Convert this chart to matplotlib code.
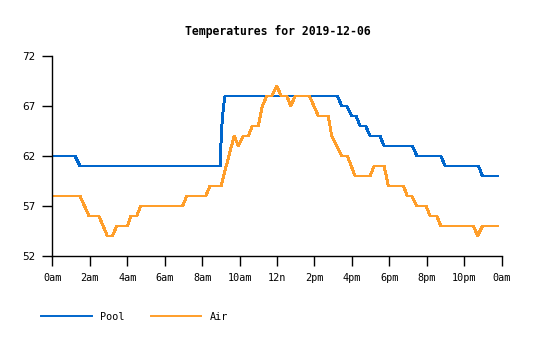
import matplotlib
matplotlib.use('Agg')
import matplotlib.pyplot as plt

# ── data (hours since midnight, degrees) ─────────────────────────────────────
pool_hours = [0.0, 1.21, 1.48, 8.96, 9.0, 9.08, 9.17, 9.23, 15.22, 15.46, 15.73,
              15.99, 16.22, 16.44, 16.74, 16.97, 17.5, 17.72, 19.23, 19.47,
              20.75, 20.98, 22.76, 22.97, 23.77]
pool_temps = [62, 62, 61, 61, 63, 65.8, 67.3, 68, 68, 67, 67,
              66, 66, 65, 65, 64, 64, 63, 63, 62,
              62, 61, 61, 60, 60]

air_hours = [0.0, 1.48, 1.96, 2.49, 2.94, 3.21, 3.44, 4.01, 4.19, 4.51, 4.72,
             6.96, 7.18, 8.19, 8.42, 9.01, 9.71, 9.94, 10.2, 10.47, 10.68,
             11.0, 11.22, 11.45, 11.72, 11.99, 12.22, 12.52, 12.74, 12.97,
             13.73, 14.21, 14.74, 14.92, 15.2, 15.46, 15.76, 16.17, 16.97,
             17.19, 17.72, 17.95, 18.75, 18.96, 19.2, 19.47, 19.96, 20.18,
             20.53, 20.75, 22.49, 22.72, 22.97, 23.77]
air_temps = [58, 58, 56, 56, 54, 54, 55, 55, 56, 56, 57,
             57, 58, 58, 59, 59, 64, 63, 64, 64, 65,
             65, 67, 68, 68, 69, 68, 68, 67, 68,
             68, 66, 66, 64, 63, 62, 62, 60, 60,
             61, 61, 59, 59, 58, 58, 57, 57, 56,
             56, 55, 55, 54, 55, 55]

x_ticks = list(range(0, 25, 2))
x_labels = ['0am', '2am', '4am', '6am', '8am', '10am', '12n',
            '2pm', '4pm', '6pm', '8pm', '10pm', '0am']
y_ticks = [52, 57, 62, 67, 72]

POOL_COLOR = '#0066CC'
AIR_COLOR = '#FF9E2A'
MONO = 'DejaVu Sans Mono'

# ── figure ───────────────────────────────────────────────────────────────────
fig = plt.figure(figsize=(5.35, 3.4), dpi=100)
ax = fig.add_axes([52.3 / 535, 1 - 256 / 340, (501.7 - 52.3) / 535, 200 / 340])

ax.plot(pool_hours, pool_temps, color=POOL_COLOR, lw=1.4,
        antialiased=False, label='Pool')
ax.plot(air_hours, air_temps, color=AIR_COLOR, lw=1.4,
        antialiased=False, label='Air')

ax.set_xlim(0, 24)
ax.set_ylim(52, 72)
ax.set_xticks(x_ticks)
ax.set_xticklabels(x_labels, family=MONO, fontsize=7.3)
ax.set_yticks(y_ticks)
ax.set_yticklabels([str(v) for v in y_ticks], fontsize=7.5)
ax.tick_params(direction='out', length=7, width=1, color='black', pad=5)

for side in ('top', 'right'):
    ax.spines[side].set_visible(False)
for side in ('left', 'bottom'):
    ax.spines[side].set_linewidth(1.0)

fig.text(0.52, 1 - 31 / 340, 'Temperatures for 2019-12-06', ha='center',
         va='center', family=MONO, fontsize=8.3, fontweight='bold')

fig.legend(loc='center left', bbox_to_anchor=(32 / 535, 1 - 317 / 340),
           ncol=2, frameon=False, handlelength=5.0, handletextpad=0.8,
           columnspacing=2.6, prop={'family': MONO, 'size': 7.3})

fig.savefig('out.png', dpi=100, facecolor='white')
